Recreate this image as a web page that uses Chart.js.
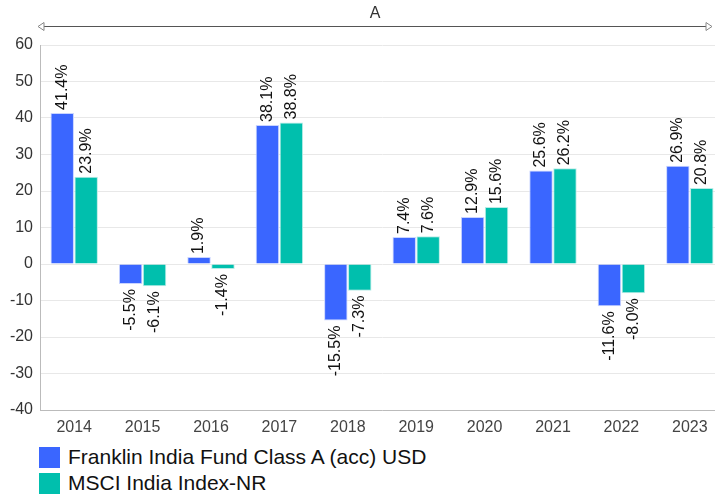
<!DOCTYPE html>
<html>
<head>
<meta charset="utf-8">
<script src="https://cdn.jsdelivr.net/npm/chart.js@4.4.1/dist/chart.umd.min.js"></script>
<style>
  body { margin: 0; background: #fff; font-family: "Liberation Sans", Arial, sans-serif; overflow: hidden; }
  #wrap { position: relative; width: 726px; height: 440px; }
  #legend { position: absolute; left: 39px; top: 444px; }
  .item { display: flex; align-items: center; height: 26px; font-size: 21px; color: #111; }
  .box { width: 21px; height: 21px; margin-right: 8px; }
</style>
</head>
<body>
<div id="wrap"><canvas id="chart"></canvas></div>
<div id="legend"></div>
<script>
const years = ['2014', '2015', '2016', '2017', '2018', '2019', '2020', '2021', '2022', '2023'];
const fundValues = [41.4, -5.5, 1.9, 38.1, -15.5, 7.4, 12.9, 25.6, -11.6, 26.9];
const indexValues = [23.9, -6.1, -1.4, 38.8, -7.3, 7.6, 15.6, 26.2, -8.0, 20.8];
const seriesNames = ['Franklin India Fund Class A (acc) USD', 'MSCI India Index-NR'];
const periodLabel = 'A';

const colors = ['#3a66ff', '#00bfad'];

// rotated value labels above / below each bar
const barLabels = {
    id: 'barLabels',
    afterDatasetsDraw(chart) {
        const ctx = chart.ctx;
        ctx.save();
        ctx.font = '16px "Liberation Sans", Arial, sans-serif';
        ctx.fillStyle = '#111';
        ctx.textBaseline = 'middle';
        chart.data.datasets.forEach((ds, i) => {
            chart.getDatasetMeta(i).data.forEach((bar, j) => {
                const v = ds.data[j];
                ctx.save();
                ctx.translate(bar.x, bar.y);
                ctx.rotate(-Math.PI / 2);
                if (v >= 0) {
                    ctx.textAlign = 'left';
                    ctx.fillText(v.toFixed(1) + '%', 3, 0);
                } else {
                    ctx.textAlign = 'right';
                    ctx.fillText(v.toFixed(1) + '%', -5, 0);
                }
                ctx.restore();
            });
        });
        ctx.restore();
    }
};

// double arrow with period label over the plot
const periodArrow = {
    id: 'periodArrow',
    afterDraw(chart) {
        const ctx = chart.ctx;
        const a = chart.chartArea;
        const y = 26;
        const x0 = a.left - 2, x1 = 712;
        ctx.save();
        ctx.strokeStyle = '#555';
        ctx.lineWidth = 1;
        ctx.beginPath();
        ctx.moveTo(x0 + 6, y + 0.5);
        ctx.lineTo(x1 - 6, y + 0.5);
        ctx.stroke();
        ctx.strokeStyle = '#888';
        ctx.beginPath();
        ctx.moveTo(x0 + 6, y - 3.5); ctx.lineTo(x0, y + 0.5); ctx.lineTo(x0 + 6, y + 4.5); ctx.closePath();
        ctx.moveTo(x1 - 6, y - 3.5); ctx.lineTo(x1, y + 0.5); ctx.lineTo(x1 - 6, y + 4.5); ctx.closePath();
        ctx.stroke();
        ctx.fillStyle = '#333';
        ctx.font = '16px "Liberation Sans", Arial, sans-serif';
        ctx.textAlign = 'center';
        ctx.textBaseline = 'bottom';
        ctx.fillText(periodLabel, (x0 + x1) / 2, y - 4);
        ctx.restore();
    }
};

const chart = new Chart(document.getElementById('chart'), {
    type: 'bar',
    data: {
        labels: years,
        datasets: [
            { label: seriesNames[0], data: fundValues, backgroundColor: colors[0], borderColor: '#c9d4ff', borderWidth: 1 },
            { label: seriesNames[1], data: indexValues, backgroundColor: colors[1], borderColor: '#b8ece6', borderWidth: 1 }
        ]
    },
    options: {
        responsive: true,
        maintainAspectRatio: false,
        animation: false,
        categoryPercentage: 0.7,
        barPercentage: 0.98,
        layout: { padding: { top: 45, right: 2, left: 0, bottom: 0 } },
        plugins: {
            legend: { display: false },
            tooltip: { enabled: false }
        },
        scales: {
            x: {
                grid: { display: false },
                border: { color: '#bbb' },
                ticks: { color: '#444', font: { size: 16, family: '"Liberation Sans", Arial' }, padding: 0 },
                afterFit(scale) { scale.height = 30; }
            },
            y: {
                min: -40,
                max: 60,
                ticks: { stepSize: 10, color: '#333', font: { size: 16, family: '"Liberation Sans", Arial' }, padding: 7 },
                grid: { color: '#e8e8e8', drawTicks: false },
                border: { color: '#bbb' },
                afterFit(scale) { scale.width = 40; }
            }
        }
    },
    plugins: [barLabels, periodArrow]
});

const legend = document.getElementById('legend');
chart.data.datasets.forEach(ds => {
    const row = document.createElement('div');
    row.className = 'item';
    row.innerHTML = '<span class="box" style="background:' + ds.backgroundColor + '"></span>' + ds.label;
    legend.appendChild(row);
});
</script>
</body>
</html>
